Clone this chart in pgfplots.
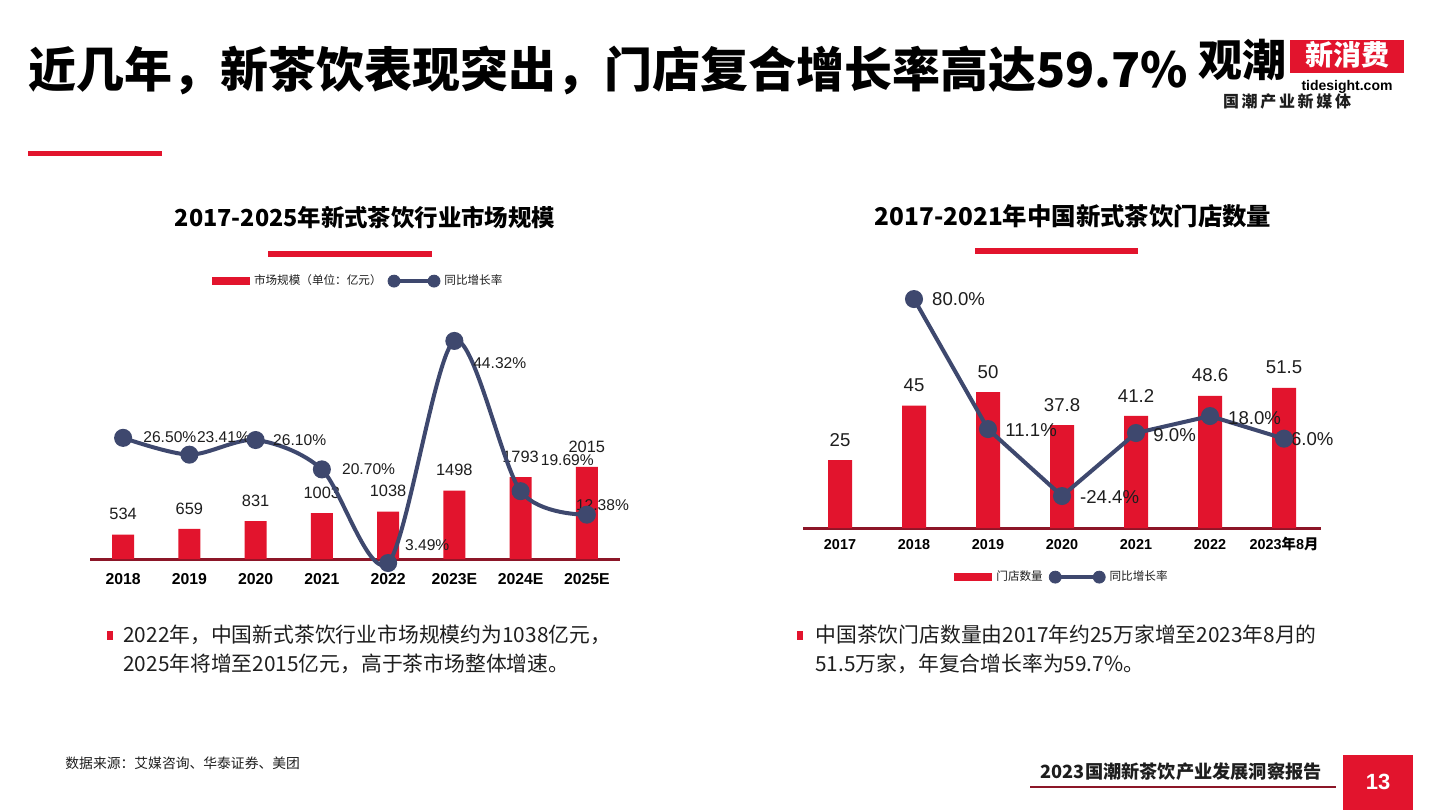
\documentclass[border=0pt]{standalone}
\usepackage{fontspec}
\setmainfont{Liberation Sans}
\newfontfamily\cjk{Noto Sans CJK SC}
\usepackage{pgfplots}
\pgfplotsset{compat=1.18}
\definecolor{barred}{RGB}{226,20,45}
\definecolor{navy}{RGB}{62,72,110}
\definecolor{basered}{RGB}{140,22,40}
\definecolor{txt}{RGB}{30,30,30}
\begin{document}
\begin{tikzpicture}
\fill[white] (0,0) rectangle (720pt,-405pt);
\begin{scope}[x=0.5pt,y=-0.5pt]
% title
\node[anchor=west, inner sep=0, font=\cjk\bfseries\fontsize{24}{28}\selectfont, text=black] at (28,70) {近几年，新茶饮表现突出，门店复合增长率高达59.7\%};
\fill[barred] (28,151) rectangle (162,156);
% logo
\node[anchor=west, inner sep=0, font=\cjk\bfseries\fontsize{22}{24}\selectfont] at (1198,60) {观潮};
\fill[barred] (1290,40) rectangle (1404,73);
\node[inner sep=0, font=\cjk\bfseries\fontsize{14}{15}\selectfont, text=white] at (1347,55) {新消费};
\node[inner sep=0, font=\bfseries\fontsize{7}{8}\selectfont] at (1347,87) {tidesight.com};
\node[inner sep=0, font=\cjk\bfseries\fontsize{8}{9}\selectfont, text=txt] at (1287,101) {国\,潮\,产\,业\,新\,媒\,体};
% chart titles
\node[inner sep=0, font=\cjk\bfseries\fontsize{11.7}{14}\selectfont] at (365,218) {2017-2025年新式茶饮行业市场规模};
\fill[barred] (268,251) rectangle (432,257);
\node[inner sep=0, font=\cjk\bfseries\fontsize{12.2}{14}\selectfont] at (1073,216) {2017-2021年中国新式茶饮门店数量};
\fill[barred] (975,248) rectangle (1138,254);
% bullets
\fill[barred] (107,631) rectangle (113,640);
\node[anchor=west, inner sep=0, font=\cjk\fontsize{10.4}{12}\selectfont, text=txt] at (123,635) {2022年，中国新式茶饮行业市场规模约为1038亿元，};
\node[anchor=west, inner sep=0, font=\cjk\fontsize{10.4}{12}\selectfont, text=txt] at (123,664) {2025年将增至2015亿元，高于茶市场整体增速。};
\fill[barred] (797,631) rectangle (803,640);
\node[anchor=west, inner sep=0, font=\cjk\fontsize{10.4}{12}\selectfont, text=txt] at (815,635) {中国茶饮门店数量由2017年约25万家增至2023年8月的};
\node[anchor=west, inner sep=0, font=\cjk\fontsize{10.4}{12}\selectfont, text=txt] at (815,664) {51.5万家，年复合增长率为59.7\%。};
% footer
\node[anchor=west, inner sep=0, font=\cjk\fontsize{6.9}{8}\selectfont, text=txt] at (65,763) {数据来源：艾媒咨询、华泰证券、美团};
\node[anchor=east, inner sep=0, font=\cjk\bfseries\fontsize{9.1}{10}\selectfont, text=txt] at (1322,772) {2023国潮新茶饮产业发展洞察报告};
\draw[basered, line width=0.8pt] (1030,787) -- (1336,787);
\fill[barred] (1343,755) rectangle (1413,810);
\node[inner sep=0, font=\bfseries\fontsize{11}{12}\selectfont, text=white] at (1378,782) {13};
\end{scope}

% ---------------- left chart: bars ----------------
\begin{axis}[at={(45pt,-279.5pt)}, anchor=south west, scale only axis,
  width=265pt, height=129.5pt,
  xmin=-0.5, xmax=7.5, ymin=0, ymax=5667,
  axis x line=bottom, axis y line=none,
  x axis line style={draw=basered, line width=1.5pt, -},
  xtick={0,...,7},
  xticklabels={2018,2019,2020,2021,2022,2023E,2024E,2025E},
  major tick length=0pt,
  xticklabel style={font=\bfseries\fontsize{7.9}{9}\selectfont, anchor=base, yshift=-12.9pt, text=black},
  ytick=\empty,
  /pgf/number format/1000 sep={}, /pgf/number format/assume math mode=true,
  ybar, bar width=11pt,
  nodes near coords,
  every node near coord/.append style={font=\fontsize{8.2}{9}\selectfont, text=txt, inner sep=2pt, yshift=5.1pt},
  legend columns=2,
  legend style={at={(0.508,1.073)}, anchor=center, draw=none, fill=none,
    font=\cjk\fontsize{5.8}{7}\selectfont, text=txt,
    /tikz/every even column/.append style={column sep=1pt}},
  legend cell align=left,
]
\addplot[fill=barred, draw=none,
  legend image code/.code={\fill[barred] (0pt,-2pt) rectangle (19pt,2pt);}]
  coordinates {(0,534)(1,659)(2,831)(3,1003)(4,1038)(5,1498)(6,1793)(7,2015)};
\addlegendentry{市场规模（单位：亿元）}
\addlegendimage{legend image code/.code={\draw[navy, line width=2pt] (0pt,0pt) -- (20pt,0pt); \fill[navy] (0pt,0pt) circle (3pt); \fill[navy] (20pt,0pt) circle (3pt);}}
\addlegendentry{同比增长率}
\end{axis}

% ---------------- left chart: line ----------------
\begin{axis}[at={(45pt,-279.5pt)}, anchor=south west, scale only axis,
  width=265pt, height=129.5pt,
  xmin=-0.5, xmax=7.5, ymin=4.228, ymax=51.84,
  hide axis, clip=false]
\addplot[navy, line width=2pt, smooth, mark=*, mark size=3.5pt, mark options={fill=navy, draw=navy}]
  coordinates {(0,26.5)(1,23.41)(2,26.1)(3,20.7)(4,3.49)(5,44.32)(6,16.7)(7,12.38)};
\begin{scope}[every node/.style={anchor=west, inner sep=0, font=\fontsize{7.8}{9}\selectfont, text=txt}]
\node at (axis cs:0.30,26.6) {26.50\%};
\node at (axis cs:1.11,26.6) {23.41\%};
\node at (axis cs:2.26,26.1) {26.10\%};
\node at (axis cs:3.30,20.8) {20.70\%};
\node at (axis cs:4.25,6.8) {3.49\%};
\node at (axis cs:5.28,40.3) {44.32\%};
\node at (axis cs:6.30,22.4) {19.69\%};
\node at (axis cs:6.83,14.1) {12.38\%};
\end{scope}
\end{axis}

% ---------------- right chart: bars ----------------
\begin{axis}[at={(401.5pt,-264pt)}, anchor=south west, scale only axis,
  width=259pt, height=124pt,
  xmin=-0.5, xmax=6.5, ymin=0, ymax=91.18,
  axis x line=bottom, axis y line=none,
  x axis line style={draw=basered, line width=1.5pt, -},
  xtick={0,...,6},
  xticklabels={2017,2018,2019,2020,2021,2022,{2023{\cjk 年}8{\cjk 月}}},
  major tick length=0pt,
  xticklabel style={font=\bfseries\fontsize{7.2}{9}\selectfont, anchor=base, yshift=-10.6pt, text=black},
  ytick=\empty,
  /pgf/number format/1000 sep={}, /pgf/number format/assume math mode=true,
  ybar, bar width=12pt,
  nodes near coords,
  every node near coord/.append style={font=\fontsize{9.3}{10}\selectfont, text=txt, inner sep=2pt, yshift=4.7pt},
  legend columns=2,
  legend style={at={(0.502,-0.198)}, anchor=center, draw=none, fill=none,
    font=\cjk\fontsize{5.8}{7}\selectfont, text=txt,
    /tikz/every even column/.append style={column sep=1pt}},
  legend cell align=left,
]
\addplot[fill=barred, draw=none,
  legend image code/.code={\fill[barred] (0pt,-2pt) rectangle (19pt,2pt);}]
  coordinates {(0,25)(1,45)(2,50)(3,37.8)(4,41.2)(5,48.6)(6,51.5)};
\addlegendentry{门店数量}
\addlegendimage{legend image code/.code={\draw[navy, line width=2pt] (0pt,0pt) -- (22pt,0pt); \fill[navy] (0pt,0pt) circle (3pt); \fill[navy] (22pt,0pt) circle (3pt);}}
\addlegendentry{同比增长率}
\end{axis}

% ---------------- right chart: line ----------------
\begin{axis}[at={(401.5pt,-264pt)}, anchor=south west, scale only axis,
  width=259pt, height=124pt,
  xmin=-0.5, xmax=6.5, ymin=-41.34, ymax=90.09,
  hide axis, clip=false]
\addplot[navy, line width=2pt, mark=*, mark size=3.5pt, mark options={fill=navy, draw=navy}]
  coordinates {(1,80.0)(2,11.1)(3,-24.4)(4,9.0)(5,18.0)(6,6.0)};
\begin{scope}[every node/.style={anchor=west, inner sep=0, font=\fontsize{9.3}{10}\selectfont, text=txt}]
\node at (axis cs:1.24,80.0) {80.0\%};
\node at (axis cs:2.23,10.6) {11.1\%};
\node at (axis cs:3.24,-24.9) {-24.4\%};
\node at (axis cs:4.23,7.9) {9.0\%};
\node at (axis cs:5.24,17.0) {18.0\%};
\node at (axis cs:6.09,5.8) {6.0\%};
\end{scope}
\end{axis}

\pgfresetboundingbox
\path[use as bounding box] (0,0) rectangle (720pt,-405pt);
\end{tikzpicture}
\end{document}
